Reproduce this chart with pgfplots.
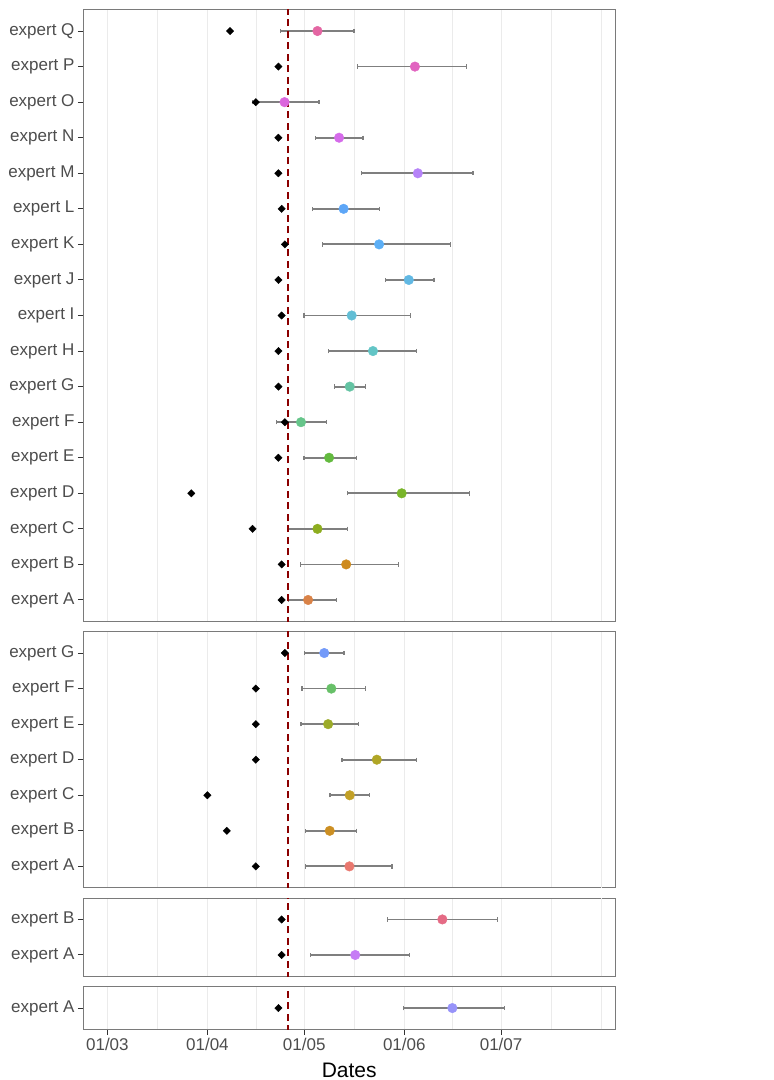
\documentclass[border=0pt]{standalone}
\usepackage{pgfplots}
\pgfplotsset{compat=1.18}
\usepackage{pgfplotstable}
\usepackage{fontspec}
\setmainfont{Liberation Sans}

\definecolor{frame}{HTML}{7A7A7A}
\definecolor{grid92}{HTML}{EBEBEB}
\definecolor{grey20}{HTML}{333333}
\definecolor{grey30}{HTML}{4D4D4D}
\definecolor{grey10}{HTML}{1A1A1A}
\definecolor{errgrey}{HTML}{7F7F7F}
\definecolor{vred}{HTML}{8B0000}
% Bordeaux
\definecolor{bA}{HTML}{D98247}
\definecolor{bB}{HTML}{CE8B1F}
\definecolor{bC}{HTML}{8DAD1F}
\definecolor{bD}{HTML}{79B52A}
\definecolor{bE}{HTML}{63BA3F}
\definecolor{bF}{HTML}{66C58A}
\definecolor{bG}{HTML}{64C3A3}
\definecolor{bH}{HTML}{63C5C6}
\definecolor{bI}{HTML}{62BED5}
\definecolor{bJ}{HTML}{61B8E3}
\definecolor{bK}{HTML}{5CAFF6}
\definecolor{bL}{HTML}{5DA6F7}
\definecolor{bM}{HTML}{B683F8}
\definecolor{bN}{HTML}{D56BEA}
\definecolor{bO}{HTML}{DB66DD}
\definecolor{bP}{HTML}{E164C0}
\definecolor{bQ}{HTML}{E466A3}
% Charentes
\definecolor{cA}{HTML}{E9786F}
\definecolor{cB}{HTML}{CC8F23}
\definecolor{cC}{HTML}{C2A026}
\definecolor{cD}{HTML}{B0A626}
\definecolor{cE}{HTML}{9CAB2A}
\definecolor{cF}{HTML}{67C068}
\definecolor{cG}{HTML}{739AF9}
% Midi / Val
\definecolor{mA}{HTML}{C67DF5}
\definecolor{mB}{HTML}{E56B85}
\definecolor{vA}{HTML}{9793F9}

% days of year: 60 = 01/03, 91 = 01/04, 121 = 01/05, 152 = 01/06, 182 = 01/07
\pgfplotstableread{
row obs mid lo hi c
1  114 122.2 116.1 130.9 A
2  114 134.0 119.8 150.1 B
3  105 125.1 115.8 134.5 C
4  86  151.2 134.3 172.3 D
5  113 128.7 120.9 137.3 E
6  115 120.0 112.4 127.9 F
7  113 135.1 130.3 140.1 G
8  113 142.3 128.6 155.7 H
9  114 135.7 120.9 154.0 I
10 113 153.4 146.1 161.2 J
11 115 144.2 126.6 166.3 K
12 114 133.2 123.6 144.3 L
13 113 156.2 138.8 173.3 M
14 113 131.8 124.5 139.2 N
15 106 114.9 104.9 125.6 O
16 113 155.3 137.5 171.2 P
17 98  125.1 113.7 136.4 Q
}\bdx

\pgfplotstableread{
row obs mid lo hi c
1 106 135.0 121.4 148.2 A
2 97  128.9 121.4 137.2 B
3 91  135.1 129.0 141.3 C
4 106 143.5 132.7 155.9 D
5 106 128.4 120.0 137.7 E
6 106 129.4 120.3 139.9 F
7 115 127.2 121.0 133.3 G
}\cha

\pgfplotstableread{
row obs mid lo hi c
1 114 136.8 122.9 153.7 A
2 114 163.8 146.9 180.9 B
}\mdp

\pgfplotstableread{
row obs mid lo hi c
1 113 166.9 151.7 183.0 A
}\vdl

\tikzset{strip/.style={font=\fontsize{17}{20}\selectfont, text=grey10}}

\pgfplotsset{
  panel/.style={
    scale only axis, width=531.5pt, xmin=52.6, xmax=217.3,
    anchor=north west,
    axis line style={draw=frame, line width=1pt},
    xtick={60,91,121,152,182},
    minor xtick={75.5,106,136.5,167,197.5},
    extra x ticks={213}, extra x tick labels={},
    extra x tick style={grid=major, major tick length=0pt},
    xmajorgrids, xminorgrids,
    major grid style={draw=grid92, line width=1.1pt},
    minor grid style={draw=grid92, line width=0.55pt},
    tick align=outside, xtick pos=bottom, ytick pos=left,
    major tick length=5.5pt, minor tick length=0pt,
    tick style={draw=grey20, line width=1pt},
    ticklabel style={font=\fontsize{17}{20}\selectfont, text=grey30},
    /pgf/number format/assume math mode=true,
    every error bar/.append style={line width=1.8pt, draw=errgrey},
  },
  upper/.style={xticklabels={}, xtick style={draw=none}},
  errs/.style={errgrey, line width=1.8pt, only marks, mark=none, forget plot,
    error bars/.cd, x dir=both, x explicit, error mark=|,
    error bar style={draw=errgrey, line width=1.8pt},
    error mark options={draw=errgrey, line width=1.2pt, mark size=2.2pt}},
  pts/.style={scatter, only marks, mark=*, mark size=4.8pt,
    scatter src=explicit symbolic},
  obsmark/.style={only marks, mark=square*, mark size=2.6pt, black,
    mark options={rotate=45}},
  vl/.style={vred, line width=1.6pt, dash pattern=on 7pt off 4.5pt},
}

\begin{document}
\begin{tikzpicture}
\path[use as bounding box] (0pt,0pt) rectangle (774pt,-1080pt);

% Bordeaux
\begin{axis}[panel, upper, at={(83.5pt,-9.7pt)}, height=611.6pt,
  ymin=0.4, ymax=17.6, ytick={1,...,17},
  yticklabels={expert A,expert B,expert C,expert D,expert E,expert F,expert G,expert H,expert I,expert J,expert K,expert L,expert M,expert N,expert O,expert P,expert Q}]
\addplot[errs] table[x=mid, y=row, x error plus expr=\thisrow{hi}-\thisrow{mid}, x error minus expr=\thisrow{mid}-\thisrow{lo}] {\bdx};
\addplot[pts, scatter/classes={A={bA},B={bB},C={bC},D={bD},E={bE},F={bF},G={bG},H={bH},I={bI},J={bJ},K={bK},L={bL},M={bM},N={bN},O={bO},P={bP},Q={bQ}}]
  table[x=mid, y=row, meta=c] {\bdx};
\addplot[obsmark] table[x=obs, y=row] {\bdx};
\addplot[vl] coordinates {(116,0) (116,18)};
\node[strip, xshift=83pt] at (rel axis cs:1,0.5) {Bordeaux};
\end{axis}

% Charentes-Cognac
\begin{axis}[panel, upper, at={(83.5pt,-631.7pt)}, height=256pt,
  ymin=0.4, ymax=7.6, ytick={1,...,7},
  yticklabels={expert A,expert B,expert C,expert D,expert E,expert F,expert G}]
\addplot[errs] table[x=mid, y=row, x error plus expr=\thisrow{hi}-\thisrow{mid}, x error minus expr=\thisrow{mid}-\thisrow{lo}] {\cha};
\addplot[pts, scatter/classes={A={cA},B={cB},C={cC},D={cD},E={cE},F={cF},G={cG}}]
  table[x=mid, y=row, meta=c] {\cha};
\addplot[obsmark] table[x=obs, y=row] {\cha};
\addplot[vl] coordinates {(116,0) (116,8)};
\node[strip, xshift=83pt] at (rel axis cs:1,0.5) {Charentes−Cognac};
\end{axis}

% Midi-Pyrenees
\begin{axis}[panel, upper, at={(83.5pt,-898.1pt)}, height=78.2pt,
  ymin=0.4, ymax=2.6, ytick={1,2},
  yticklabels={expert A,expert B}]
\addplot[errs] table[x=mid, y=row, x error plus expr=\thisrow{hi}-\thisrow{mid}, x error minus expr=\thisrow{mid}-\thisrow{lo}] {\mdp};
\addplot[pts, scatter/classes={A={mA},B={mB}}]
  table[x=mid, y=row, meta=c] {\mdp};
\addplot[obsmark] table[x=obs, y=row] {\mdp};
\addplot[vl] coordinates {(116,0) (116,3)};
\node[strip, xshift=83pt] at (rel axis cs:1,0.5) {Midi−Pyrénées};
\end{axis}

% Val-de-Loire
\begin{axis}[panel, at={(83.5pt,-986.7pt)}, height=42.7pt,
  ymin=0.4, ymax=1.6, ytick={1},
  yticklabels={expert A},
  xticklabels={01/03,01/04,01/05,01/06,01/07},
  xlabel={Dates}, xlabel style={font=\fontsize{21}{25}\selectfont, text=black, yshift=0pt}]
\addplot[errs] table[x=mid, y=row, x error plus expr=\thisrow{hi}-\thisrow{mid}, x error minus expr=\thisrow{mid}-\thisrow{lo}] {\vdl};
\addplot[pts, scatter/classes={A={vA}}]
  table[x=mid, y=row, meta=c] {\vdl};
\addplot[obsmark] table[x=obs, y=row] {\vdl};
\addplot[vl] coordinates {(116,0) (116,2)};
\node[strip, xshift=83pt] at (rel axis cs:1,0.5) {Val−de−Loire};
\end{axis}
\end{tikzpicture}
\end{document}
